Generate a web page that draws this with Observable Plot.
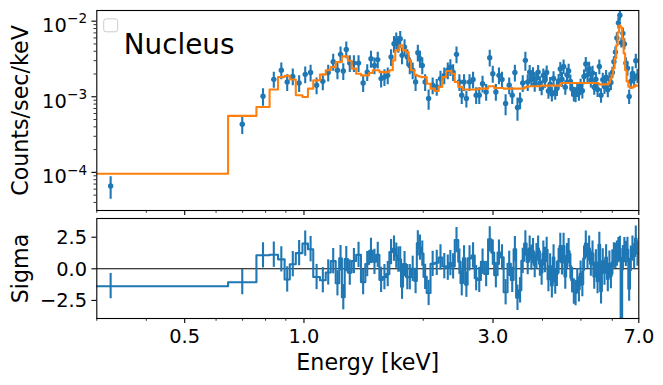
<!DOCTYPE html>
<html><head><meta charset="utf-8">
<script src="https://cdn.jsdelivr.net/npm/d3@7"></script>
<script src="https://cdn.jsdelivr.net/npm/@observablehq/plot@0.6"></script>
<style>
html,body{margin:0;padding:0;background:#fff;}
#wrap{position:relative;width:663px;height:385px;overflow:hidden;background:#fff;font-family:"DejaVu Sans",sans-serif;}
#wrap svg{position:absolute;left:0;}
</style></head><body><div id="wrap"></div>
<script>
// bin edges (keV), n+1 values
const edges = [0.1643, 0.6434, 0.7586, 0.8189, 0.8601, 0.8936, 0.9209, 0.9536, 0.9913, 1.0235,
 1.0554, 1.0972, 1.1348, 1.1681, 1.2025, 1.2272, 1.2466, 1.2670, 1.2907, 1.3195,
 1.3543, 1.3926, 1.4285, 1.4603, 1.4920, 1.5208, 1.5502, 1.5810, 1.6116, 1.6427,
 1.6754, 1.7000, 1.7198, 1.7409, 1.7582, 1.7787, 1.8099, 1.8364, 1.8632, 1.8992,
 1.9270, 1.9494, 1.9745, 2.0034, 2.0409, 2.0864, 2.1391, 2.1880, 2.2342, 2.2867,
 2.3267, 2.3566, 2.4021, 2.4514, 2.4843, 2.5191, 2.5514, 2.5887, 2.6464, 2.6975,
 2.7433, 2.7963, 2.8503, 2.9155, 2.9718, 3.0204, 3.0806, 3.1311, 3.1916, 3.2646,
 3.3277, 3.3822, 3.4316, 3.4858, 3.5368, 3.5948, 3.6473, 3.6942,
 3.7307, 3.7677, 3.803, 3.8427, 3.8808, 3.9193, 3.960, 3.9997, 4.0393, 4.0769,
 4.1197, 4.1605, 4.2018, 4.246, 4.2854, 4.3278, 4.3707, 4.4141, 4.4578, 4.4994,
 4.5439, 4.5889, 4.6317, 4.6804, 4.7267, 4.7735, 4.8237, 4.8714, 4.9197, 4.9655,
 5.0177, 5.067, 5.1177, 5.1713, 5.2196, 5.2712, 5.3236, 5.3763, 5.4295, 5.4801,
 5.5376, 5.593, 5.6479, 5.7072, 5.7604, 5.8175, 5.8752, 5.9266, 5.978,
 6.030, 6.083, 6.136, 6.190, 6.244, 6.299, 6.354, 6.409, 6.465, 6.522,
 6.5862, 6.6515, 6.7135, 6.7799, 6.8473, 6.9111, 6.9796];

// observed rate (counts/sec/keV)
const rate = [6.60e-5, 4.34e-4, 1.015e-3, 1.70e-3, 2.24e-3, 1.57e-3, 1.86e-3, 1.52e-3, 1.98e-3, 2.09e-3,
 1.42e-3, 1.60e-3, 2.09e-3, 2.91e-3, 2.24e-3, 3.64e-3, 2.19e-3, 4.23e-3, 2.79e-3, 2.79e-3,
 2.79e-3, 1.52e-3, 2.12e-3, 3.19e-3, 2.60e-3, 3.10e-3, 1.74e-3, 1.82e-3, 1.92e-3, 3.35e-3,
 5.03e-3, 5.56e-3, 5.03e-3, 5.86e-3, 3.53e-3, 4.54e-3, 3.35e-3, 2.60e-3, 2.24e-3, 1.57e-3,
 3.83e-3, 3.19e-3, 2.60e-3, 1.57e-3, 9.47e-4, 1.42e-3, 1.35e-3, 1.74e-3, 1.92e-3, 2.24e-3,
 2.47e-3, 2.12e-3, 3.64e-3, 1.57e-3, 1.05e-3, 1.57e-3, 9.47e-4, 1.57e-3, 1.69e-3, 1.05e-3,
 1.05e-3, 1.49e-3, 1.16e-3, 3.29e-3, 2.02e-3, 1.16e-3, 1.92e-3, 1.69e-3, 8.13e-4, 1.42e-3,
 1.05e-3, 2.09e-3, 7.20e-4, 8.99e-4, 1.52e-3, 3.03e-3, 1.57e-3,
 2.12e-3, 1.71e-3, 1.99e-3, 1.47e-3, 1.76e-3, 2.12e-3, 1.51e-3, 1.32e-3, 1.91e-3, 1.66e-3,
 2.10e-3, 1.19e-3, 1.47e-3, 1.09e-3, 1.75e-3, 1.15e-3, 1.29e-3, 1.62e-3, 2.33e-3, 1.71e-3,
 2.52e-3, 1.34e-3, 1.95e-3, 2.20e-3, 1.59e-3, 1.27e-3, 1.09e-3, 1.07e-3, 1.25e-3, 1.12e-3,
 1.40e-3, 1.20e-3, 1.85e-3, 2.71e-3, 1.95e-3, 2.35e-3, 1.67e-3, 2.07e-3, 1.34e-3, 1.71e-3,
 1.25e-3, 2.51e-3, 1.05e-3, 1.68e-3, 1.37e-3, 1.82e-3, 1.24e-3, 1.70e-3, 1.55e-3,
 2.1e-3, 2.9e-3, 3.9e-3, 6.0e-3, 9.5e-3, 1.2e-2, 5.2e-3, 6.9e-3, 5.0e-3, 2.8e-3,
 2.39e-3, 1.01e-3, 1.60e-3, 2.04e-3, 1.74e-3, 3.0e-3, 1.90e-3];

// fractional 1-sigma error of each rate
const relErr = [0.33, 0.27, 0.26, 0.24, 0.25, 0.25, 0.25, 0.25, 0.25, 0.25,
 0.25, 0.25, 0.25, 0.25, 0.25, 0.25, 0.25, 0.25, 0.25, 0.25,
 0.25, 0.25, 0.25, 0.25, 0.25, 0.25, 0.25, 0.25, 0.25, 0.25,
 0.25, 0.25, 0.25, 0.25, 0.25, 0.25, 0.25, 0.25, 0.25, 0.25,
 0.25, 0.25, 0.25, 0.25, 0.30, 0.25, 0.25, 0.25, 0.25, 0.25,
 0.25, 0.25, 0.25, 0.25, 0.25, 0.25, 0.25, 0.25, 0.25, 0.25,
 0.25, 0.25, 0.25, 0.25, 0.25, 0.25, 0.25, 0.25, 0.31, 0.25,
 0.25, 0.25, 0.34, 0.25, 0.25, 0.28, 0.25,
 0.22, 0.22, 0.22, 0.22, 0.22, 0.22, 0.22, 0.22, 0.22, 0.22,
 0.22, 0.22, 0.22, 0.22, 0.22, 0.22, 0.22, 0.22, 0.22, 0.22,
 0.22, 0.22, 0.22, 0.22, 0.22, 0.22, 0.22, 0.22, 0.22, 0.22,
 0.22, 0.22, 0.22, 0.22, 0.22, 0.22, 0.22, 0.22, 0.22, 0.22,
 0.22, 0.22, 0.22, 0.22, 0.22, 0.22, 0.22, 0.22, 0.22,
 0.17, 0.17, 0.17, 0.17, 0.17, 0.17, 0.15, 0.17, 0.17, 0.17,
 0.22, 0.22, 0.22, 0.22, 0.22, 0.22, 0.22];

// folded model (counts/sec/keV)
const model = [9.6e-5, 5.58e-4, 7.33e-4, 1.245e-3, 1.82e-3, 1.90e-3, 1.69e-3, 1.047e-3, 9.94e-4, 1.28e-3,
 1.65e-3, 1.96e-3, 2.24e-3, 2.47e-3, 2.88e-3, 2.88e-3, 3.42e-3, 3.42e-3, 3.0e-3, 2.36e-3,
 2.02e-3, 1.92e-3, 1.92e-3, 2.06e-3, 2.24e-3, 2.24e-3, 2.12e-3, 2.12e-3, 2.12e-3, 2.24e-3,
 3.03e-3, 4.11e-3, 4.11e-3, 4.78e-3, 4.78e-3, 4.11e-3, 3.9e-3, 3.03e-3, 2.24e-3, 1.95e-3,
 1.90e-3, 1.85e-3, 1.82e-3, 1.82e-3, 1.49e-3, 1.28e-3, 1.19e-3, 1.35e-3, 1.82e-3, 2.19e-3,
 2.19e-3, 2.02e-3, 1.57e-3, 1.35e-3, 1.35e-3, 1.245e-3, 1.245e-3, 1.245e-3, 1.245e-3, 1.245e-3,
 1.28e-3, 1.28e-3, 1.28e-3, 1.375e-3, 1.375e-3, 1.306e-3, 1.306e-3, 1.306e-3, 1.28e-3, 1.28e-3,
 1.28e-3, 1.28e-3, 1.28e-3, 1.28e-3, 1.28e-3, 1.33e-3, 1.36e-3,
 1.375e-3, 1.375e-3, 1.375e-3, 1.375e-3, 1.375e-3, 1.375e-3, 1.375e-3, 1.405e-3, 1.405e-3, 1.405e-3,
 1.405e-3, 1.405e-3, 1.405e-3, 1.405e-3, 1.405e-3, 1.405e-3, 1.405e-3, 1.405e-3, 1.405e-3, 1.52e-3,
 1.52e-3, 1.52e-3, 1.52e-3, 1.52e-3, 1.52e-3, 1.52e-3, 1.52e-3, 1.52e-3, 1.52e-3, 1.52e-3,
 1.52e-3, 1.52e-3, 1.52e-3, 1.52e-3, 1.52e-3, 1.52e-3, 1.52e-3, 1.52e-3, 1.52e-3, 1.52e-3,
 1.52e-3, 1.46e-3, 1.46e-3, 1.46e-3, 1.46e-3, 1.46e-3, 1.46e-3, 1.55e-3, 1.75e-3,
 1.92e-3, 2.38e-3, 3.22e-3, 4.78e-3, 7.1e-3, 8.77e-3, 8.26e-3, 5.91e-3, 3.75e-3, 2.24e-3,
 1.6e-3, 1.36e-3, 1.32e-3, 1.32e-3, 1.36e-3, 1.42e-3, 1.40e-3];

const xMajor = [0.5, 1.0, 3.0, 7.0];
const xMajorLabels = ["0.5", "1.0", "3.0", "7.0"];
const xMinor = [0.3, 0.4, 0.6, 0.7, 0.8, 0.9, 2, 4, 5, 6];
const yMajorTop = [1e-4, 1e-3, 1e-2];
const yMajorTopExp = ["\u22124", "\u22123", "\u22122"];
const yMinorTop = [4e-5, 5e-5, 6e-5, 7e-5, 8e-5, 9e-5, 2e-4, 3e-4, 4e-4, 5e-4, 6e-4, 7e-4, 8e-4, 9e-4,
 2e-3, 3e-3, 4e-3, 5e-3, 6e-3, 7e-3, 8e-3, 9e-3];
const sigmaTicks = [-2.5, 0, 2.5];
const sigmaLabels = ["\u22122.5", "0.0", "2.5"];

const bins = rate.map((r, i) => {
  const lo = edges[i], hi = edges[i + 1];
  const err = r * relErr[i];
  return {lo, hi, x: Math.sqrt(lo * hi), rate: r, err, model: model[i], sigma: (r - model[i]) / err};
});
const modelSteps = bins.flatMap(b => [{x: b.lo, y: b.model}, {x: b.hi, y: b.model}]);
const sigmaSteps = bins.flatMap(b => [{x: b.lo, y: b.sigma}, {x: b.hi, y: b.sigma}]);

const blue = "#1f77b4", orange = "#ff7f0e";
const font = '"DejaVu Sans", sans-serif';
const common = {width: 663, marginLeft: 96.3, marginRight: 24.7,
  style: {fontFamily: font, background: "transparent", color: "black", overflow: "visible"}};
const ticks = (axis, vals, size, sw) => axis({ticks: vals, tickSize: size, tickFormat: () => "", label: null, strokeWidth: sw});

const topSvg = Plot.plot({
  ...common, height: 216, marginTop: 10, marginBottom: 6,
  x: {type: "log", domain: [0.3, 7.0], axis: null},
  y: {type: "log", domain: [3.13e-5, 1.384e-2], axis: null},
  marks: [
    Plot.ruleX(bins, {x: "x", y1: d => d.rate - d.err, y2: d => d.rate + d.err, stroke: blue, strokeWidth: 2.1, clip: true}),
    Plot.dot(bins, {x: "x", y: "rate", r: 2.7, fill: blue, stroke: "none", clip: true}),
    Plot.line(modelSteps, {x: "x", y: "y", stroke: orange, strokeWidth: 2.1, clip: true}),
    Plot.frame({stroke: "black", strokeWidth: 1.1}),
    ticks(Plot.axisY, yMajorTop, 4.9, 1.1),
    ticks(Plot.axisY, yMinorTop, 2.8, 0.8),
    ticks(Plot.axisX, xMajor, 4.9, 1.1),
    ticks(Plot.axisX, xMinor, 2.8, 0.8),
    Plot.text(yMajorTop, {y: d => d, frameAnchor: "left", text: () => "10", dx: -30, dy: 11, textAnchor: "end", lineAnchor: "bottom", fontSize: 19.4}),
    Plot.text(yMajorTop, {y: d => d, frameAnchor: "left", text: (d, i) => yMajorTopExp[i], dx: -9.7, dy: 2.3, textAnchor: "end", lineAnchor: "bottom", fontSize: 13.6}),
    Plot.text(["Counts/sec/keV"], {text: d => d, frameAnchor: "left", dx: -75.5, rotate: -90, textAnchor: "middle", lineAnchor: "middle", fontSize: 22.2}),
    Plot.text(["Nucleus"], {text: d => d, frameAnchor: "top-left", dx: 27, dy: 43.3, textAnchor: "start", lineAnchor: "bottom", fontSize: 27.8})
  ]
});
topSvg.style.top = "0px";

const botSvg = Plot.plot({
  ...common, height: 172, marginTop: 5, marginBottom: 67,
  x: {type: "log", domain: [0.3, 7.0], axis: null},
  y: {domain: [-3.93, 3.98], axis: null},
  marks: [
    Plot.ruleY([0], {stroke: "black", strokeWidth: 1.1}),
    Plot.line(sigmaSteps, {x: "x", y: "y", stroke: blue, strokeWidth: 2.1, clip: true}),
    Plot.ruleX(bins, {x: "x", y1: d => d.sigma - 1, y2: d => d.sigma + 1, stroke: blue, strokeWidth: 2.1, clip: true}),
    Plot.frame({stroke: "black", strokeWidth: 1.1}),
    ticks(Plot.axisY, sigmaTicks, 4.9, 1.1),
    ticks(Plot.axisX, xMajor, 4.9, 1.1),
    ticks(Plot.axisX, xMinor, 2.8, 0.8),
    Plot.text(xMajor, {x: d => d, frameAnchor: "bottom", text: (d, i) => xMajorLabels[i], dy: 24.6, textAnchor: "middle", lineAnchor: "bottom", fontSize: 19.4}),
    Plot.text(sigmaTicks, {y: d => d, frameAnchor: "left", text: (d, i) => sigmaLabels[i], dx: -9.7, dy: 7, textAnchor: "end", lineAnchor: "bottom", fontSize: 19.4}),
    Plot.text(["Sigma"], {text: d => d, frameAnchor: "left", dx: -75.5, rotate: -90, textAnchor: "middle", lineAnchor: "middle", fontSize: 22.2}),
    Plot.text(["Energy [keV]"], {text: d => d, frameAnchor: "bottom", dy: 44.2, textAnchor: "middle", lineAnchor: "middle", fontSize: 22.2})
  ]
});
botSvg.style.top = "213px";

const wrap = document.getElementById("wrap");
wrap.appendChild(botSvg);
wrap.appendChild(topSvg);

// empty legend frame (matplotlib legend without entries)
d3.select(topSvg).append("rect")
  .attr("x", 103.7).attr("y", 18.8).attr("width", 14).attr("height", 13)
  .attr("rx", 2.5).attr("fill", "white").attr("fill-opacity", 0.8)
  .attr("stroke", "#cccccc").attr("stroke-width", 1);
</script></body></html>
